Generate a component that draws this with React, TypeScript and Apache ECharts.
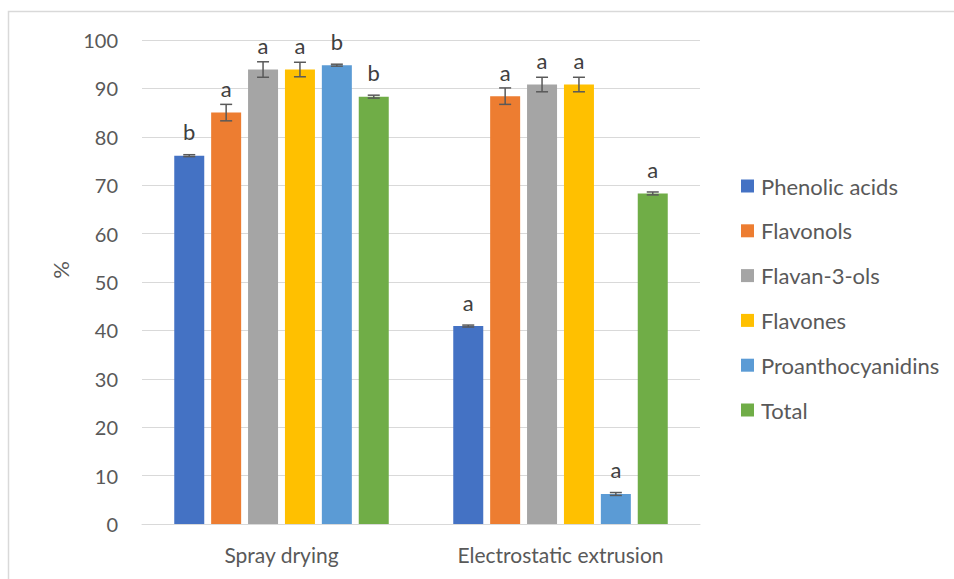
import React, { useEffect, useRef } from "react";
import * as echarts from "echarts";

const categories = ["Spray drying", "Electrostatic extrusion"];
const seriesNames = ["Phenolic acids", "Flavonols", "Flavan-3-ols", "Flavones", "Proanthocyanidins", "Total"];
const colors = ["#4472C4", "#ED7D31", "#A5A5A5", "#FFC000", "#5B9BD5", "#70AD47"];

const phenolicAcids = [76.1, 40.9];
const flavonols = [85.0, 88.4];
const flavan3ols = [93.9, 90.8];
const flavones = [93.9, 90.8];
const proanthocyanidins = [94.8, 6.2];
const total = [88.3, 68.3];

const phenolicAcidsErr = [0.2, 0.2];
const flavonolsErr = [1.7, 1.7];
const flavan3olsErr = [1.6, 1.5];
const flavonesErr = [1.5, 1.5];
const proanthocyanidinsErr = [0.2, 0.3];
const totalErr = [0.3, 0.3];

const phenolicAcidsLetters = ["b", "a"];
const flavonolsLetters = ["a", "a"];
const flavan3olsLetters = ["a", "a"];
const flavonesLetters = ["a", "a"];
const proanthocyanidinsLetters = ["b", "a"];
const totalLetters = ["b", "a"];

const yTicks = [0, 10, 20, 30, 40, 50, 60, 70, 80, 90, 100];

const values = [phenolicAcids, flavonols, flavan3ols, flavones, proanthocyanidins, total];
const errors = [phenolicAcidsErr, flavonolsErr, flavan3olsErr, flavonesErr, proanthocyanidinsErr, totalErr];
const letters = [phenolicAcidsLetters, flavonolsLetters, flavan3olsLetters, flavonesLetters, proanthocyanidinsLetters, totalLetters];

const FONT = "Lato";
const BAR_W = 30;
const BAR_GAP = 0.23;

export default function App() {
  const ref = useRef<HTMLDivElement>(null);
  useEffect(() => {
    if (!ref.current) return;
    const chart = echarts.init(ref.current, null, { renderer: "svg" });
    const step = BAR_W * (1 + BAR_GAP);
    const errData: any[] = [];
    values.forEach((vals, si) => {
      vals.forEach((v, ci) => errData.push([ci, si, v, errors[si][ci]]));
    });
    const barSeries = values.map((vals, si) => ({
      type: "bar",
      name: seriesNames[si],
      data: vals,
      barWidth: BAR_W,
      barGap: BAR_GAP * 100 + "%",
      itemStyle: { color: colors[si] },
      label: {
        show: true,
        position: "top",
        distance: 13,
        formatter: (p: any) => letters[si][p.dataIndex],
        color: "#404040",
        fontFamily: FONT,
        fontSize: 22,
      },
    }));
    const errSeries = {
      type: "custom",
      name: "err",
      data: errData,
      encode: { x: 0, y: 2 },
      z: 10,
      renderItem: (params: any, api: any) => {
        const ci = api.value(0);
        const si = api.value(1);
        const v = api.value(2);
        const e = api.value(3);
        const off = (si - 2.5) * step;
        const top = api.coord([ci, v + e]);
        const bot = api.coord([ci, v - e]);
        const x = top[0] + off;
        const style = { stroke: "#595959", lineWidth: 1.5 };
        const hw = 6;
        return {
          type: "group",
          children: [
            { type: "line", shape: { x1: x, y1: top[1], x2: x, y2: bot[1] }, style },
            { type: "line", shape: { x1: x - hw, y1: top[1], x2: x + hw, y2: top[1] }, style },
            { type: "line", shape: { x1: x - hw, y1: bot[1], x2: x + hw, y2: bot[1] }, style },
          ],
        };
      },
    };
    chart.setOption({
      animation: false,
      backgroundColor: "#ffffff",
      textStyle: { fontFamily: FONT },
      grid: { left: 142, right: 254, top: 40, bottom: 55 },
      legend: {
        data: seriesNames,
        orient: "vertical",
        left: 741,
        top: 175,
        padding: 0,
        icon: "rect",
        itemWidth: 13,
        itemHeight: 13,
        itemGap: 22.8,
        textStyle: { color: "#595959", fontSize: 22, fontFamily: FONT, lineHeight: 20, padding: [0, 0, 0, 2] },
      },
      xAxis: {
        type: "category",
        data: categories,
        axisLine: { lineStyle: { color: "#d9d9d9", width: 1 } },
        axisTick: { show: false },
        axisLabel: { color: "#595959", fontSize: 21, fontFamily: FONT, margin: 20 },
      },
      yAxis: {
        type: "value",
        min: 0,
        max: 100,
        interval: 10,
        axisLine: { show: false },
        axisTick: { show: false },
        axisLabel: {
          color: "#595959",
          fontSize: 20,
          fontFamily: FONT,
          margin: 24,
          formatter: (v: number) => (yTicks.includes(v) ? String(v) : ""),
        },
        splitLine: { lineStyle: { color: "#d9d9d9", width: 1 } },
      },
      graphic: [
        {
          type: "rect",
          shape: { x: 8.5, y: 11.5, width: 2000, height: 2000 },
          style: { fill: "none", stroke: "#d9d9d9", lineWidth: 1.5 },
          silent: true,
        },
        {
          type: "text",
          x: 60,
          y: 270,
          rotation: Math.PI / 2,
          style: {
            text: "%",
            fill: "#595959",
            fontSize: 22,
            fontFamily: FONT,
            align: "center",
            verticalAlign: "middle",
          },
        },
      ],
      series: [...barSeries, errSeries],
    });
    return () => chart.dispose();
  }, []);
  return <div ref={ref} style={{ position: "fixed", left: 0, top: 0, width: 954, height: 579 }} />;
}
